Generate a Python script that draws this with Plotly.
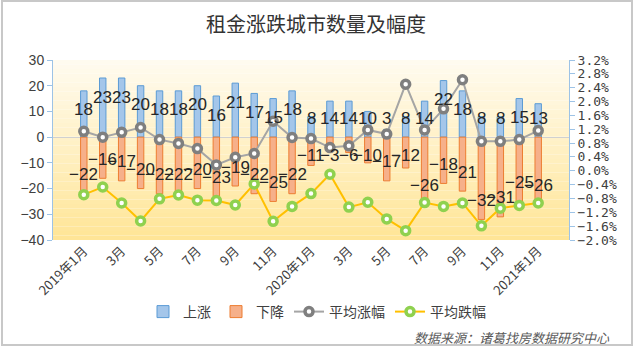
import plotly.graph_objects as go

# ---------------- data ----------------
months = ["2019-01", "2019-02", "2019-03", "2019-04", "2019-05", "2019-06", "2019-07",
          "2019-08", "2019-09", "2019-10", "2019-11", "2019-12", "2020-01", "2020-02",
          "2020-03", "2020-04", "2020-05", "2020-06", "2020-07", "2020-08", "2020-09",
          "2020-10", "2020-11", "2020-12", "2021-01"]
tick_months = ["2019-01", "2019-03", "2019-05", "2019-07", "2019-09", "2019-11", "2020-01",
               "2020-03", "2020-05", "2020-07", "2020-09", "2020-11", "2021-01"]
tick_labels = ["2019年1月", "3月", "5月", "7月", "9月", "11月", "2020年1月",
               "3月", "5月", "7月", "9月", "11月", "2021年1月"]
up_count = [18, 23, 23, 20, 18, 18, 20, 16, 21, 17, 15, 18, 8, 14, 14, 10, 3, 8, 14, 22, 18, 8, 8, 15, 13]
down_count = [-22, -16, -17, -20, -22, -22, -20, -23, -19, -22, -25, -22, -11, -3, -6, -10, -17,
              -12, -26, -18, -21, -32, -31, -25, -26]
avg_up_pct = [1.14, 0.97, 1.11, 1.25, 0.90, 0.79, 0.64, 0.17, 0.39, 0.50, 1.43, 0.96, 0.93,
              0.67, 0.72, 1.18, 1.06, 2.50, 1.18, 1.79, 2.63, 0.85, 0.85, 0.90, 1.16]
avg_down_pct = [-0.69, -0.47, -0.93, -1.45, -0.81, -0.70, -0.85, -0.86, -0.99, -0.38, -1.46,
                -1.03, -0.66, -0.10, -1.05, -0.91, -1.39, -1.73, -0.92, -1.03, -0.93, -1.59,
                -1.08, -1.00, -0.93]

# ---------------- layout constants ----------------
W, H = 636, 350
ML, MR, MT, MB = 53, 67, 60, 110
PW, PH = W - ML - MR, H - MT - MB
Y1_RANGE = [-40, 30]
Y2_RANGE = [-2.0, 3.2]
CJK = "Noto Sans CJK SC"

fig = go.Figure()

fig.add_trace(go.Bar(
    x=months, y=up_count, name="上涨", width=0.34,
    marker=dict(color="#a4c6ea", line=dict(color="#5b9bd5", width=1)),
))
fig.add_trace(go.Bar(
    x=months, y=down_count, name="下降", width=0.34,
    marker=dict(color="#f6b08a", line=dict(color="#ed7d31", width=1)),
))
fig.add_trace(go.Scatter(
    x=months, y=avg_up_pct, name="平均涨幅", yaxis="y2", mode="lines+markers",
    line=dict(color="#a5a5a5", width=2),
    marker=dict(size=8, color="white", line=dict(color="#7f7f7f", width=3.5)),
))
fig.add_trace(go.Scatter(
    x=months, y=avg_down_pct, name="平均跌幅", yaxis="y2", mode="lines+markers",
    line=dict(color="#ffc000", width=2),
    marker=dict(size=8, color="white", line=dict(color="#8fd14f", width=3.5)),
))

# ---------------- bar value labels (Excel "inside end" style) ----------------
px_per_unit = PH / (Y1_RANGE[1] - Y1_RANGE[0])
annotations = []
for series in (up_count, down_count):
    for m, v in zip(months, series):
        sign = 1 if v >= 0 else -1
        if abs(v) * px_per_unit >= 37.5:
            y, shift = v, -sign * 19
        else:
            y, shift = 0, sign * 18.5
        annotations.append(dict(
            x=m, y=y, yref="y", xref="x", text=str(v).replace("-", "−"),
            showarrow=False, yshift=shift, xanchor="center", yanchor="middle",
            font=dict(family="Liberation Sans, Arial", size=17, color="#262626"),
        ))

annotations.append(dict(
    xref="paper", yref="paper", x=(612 - ML) / PW, y=(H - MB - 337) / PH,
    xanchor="right", yanchor="middle", showarrow=False,
    text="数据来源：诸葛找房数据研究中心",
    font=dict(family=CJK, size=13, color="#595959", style="italic"),
))

# ---------------- background gradient + border ----------------
shapes = []
n = 40
top = (255, 251, 240)
bot = (255, 229, 150)
for i in range(n):
    t = (i + 0.5) / n
    c = tuple(round(top[k] + (bot[k] - top[k]) * t) for k in range(3))
    shapes.append(dict(
        type="rect", xref="x domain", yref="y domain",
        x0=0, x1=1, y0=1 - (i + 1) / n, y1=1 - i / n,
        fillcolor="rgb(%d,%d,%d)" % c, line=dict(width=0), layer="below",
    ))


def px_x(p):
    return (p - ML) / PW


def px_y(p):
    return (H - MB - p) / PH


shapes.append(dict(
    type="rect", xref="paper", yref="paper",
    x0=px_x(2), x1=px_x(632), y0=px_y(345), y1=px_y(1),
    line=dict(color="#c8c8c8", width=2), fillcolor="rgba(0,0,0,0)", layer="above",
))

fig.update_layout(
    width=W, height=H,
    margin=dict(l=ML, r=MR, t=MT, b=MB),
    paper_bgcolor="white", plot_bgcolor="rgba(0,0,0,0)",
    barmode="overlay", bargap=0.6,
    title=dict(text="租金涨跌城市数量及幅度", x=316 / W, xanchor="center",
               y=1 - 25 / H, yanchor="middle", yref="container",
               font=dict(family=CJK, size=20, color="#333333")),
    xaxis=dict(type="category", categoryorder="array", categoryarray=months,
               tickmode="array", tickvals=tick_months, ticktext=tick_labels,
               tickangle=-45, showline=False, showgrid=False, ticks="",
               tickfont=dict(family=CJK, size=13, color="#404040")),
    yaxis=dict(range=Y1_RANGE, dtick=10, showgrid=False, zeroline=True,
               zerolinecolor="#d0d0d0", zerolinewidth=1,
               showline=True, linecolor="#9dc3e6", linewidth=1,
               ticks="outside", ticklen=5, tickcolor="#9dc3e6",
               tickfont=dict(family="Liberation Sans, Arial", size=14, color="#404040")),
    yaxis2=dict(range=Y2_RANGE, dtick=0.4, tickformat=".1f", ticksuffix="%",
                overlaying="y", side="right", showgrid=False, zeroline=False,
                showline=True, linecolor="#9dc3e6", linewidth=1,
                ticks="outside", ticklen=5, tickcolor="#9dc3e6",
                tickfont=dict(family="DejaVu Sans Mono", size=13, color="#404040")),
    legend=dict(orientation="h", x=px_x(317), xanchor="center", y=px_y(312), yanchor="middle",
                font=dict(family=CJK, size=14, color="#404040"),
                bgcolor="rgba(0,0,0,0)", itemwidth=30, traceorder="normal"),
    annotations=annotations,
    shapes=shapes,
)

fig.write_html("out.html")
